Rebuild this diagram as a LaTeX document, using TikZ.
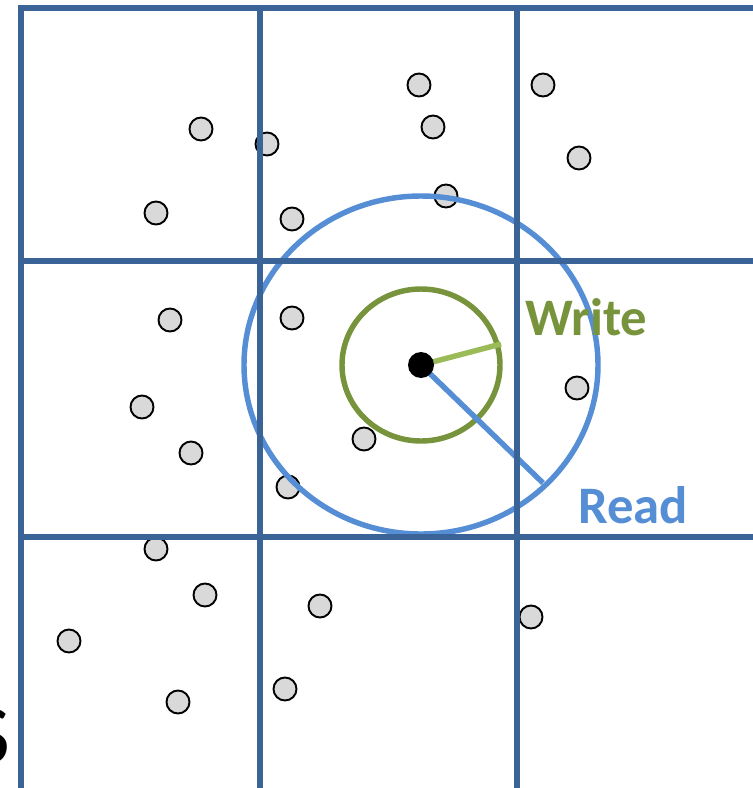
\documentclass[tikz,border=0pt]{standalone}
\usepackage{fontspec}
\setmainfont{Carlito}
\usetikzlibrary{positioning}
\definecolor{gridblue}{HTML}{3A6398}
\definecolor{readblue}{HTML}{558ED5}
\definecolor{writegreen}{HTML}{77933C}
\definecolor{radgreen}{HTML}{9BBB59}
\definecolor{dotgrey}{HTML}{D9D9D9}

\begin{document}
\begin{tikzpicture}[
    x=0.02cm, y=-0.02cm,
    cell/.style={draw=gridblue, line width=3.3pt},
    pt/.style={circle, draw, fill=dotgrey, line width=1.1pt, minimum size=0.46cm, inner sep=0pt},
    ring/.style={line width=3.1pt},
    lbl/.style={anchor=base west, font=\fontsize{30}{30}\selectfont\bfseries}
]
    \useasboundingbox (0,0) rectangle (753,788);
    \coordinate (c) at (421,365);

    % Particles
    \foreach \px/\py [count=\i] in {419/85, 543/85, 201/129, 433/127, 267/144, 579/158,
        446/196, 156/213, 292/219, 170/320, 292/318, 577/388, 142/407, 364/439,
        191/453, 288/487, 156/549, 205/595, 320/606, 69/641, 531/617, 178/702, 285/689}
        \node[pt] (p\i) at (\px,\py) {};

    % Read and write ranges
    \draw[ring, readblue] (c) ellipse [x radius=177, y radius=169];
    \draw[ring, writegreen] (c) ellipse [x radius=79, y radius=76];
    \coordinate (wend) at (501,344);
    \coordinate (rend) at (543,483);
    \draw[ring, radgreen] (c) -- (wend);
    \draw[ring, readblue] (c) -- (rend);

    % Grid
    \coordinate (g0) at (21,8);
    \draw[cell, line join=miter] (753,8) -- (g0) -- (21,788);
    \draw[cell] (260,8) -- (260,788);
    \draw[cell] (517,8) -- (517,788);
    \draw[cell] (21,261) -- (753,261);
    \draw[cell] (21,537) -- (753,537);

    % Centre
    \node[circle, fill=black, minimum size=0.52cm, inner sep=0pt] (ctr) at (c) {};
    \node[lbl, text=writegreen] (write) at (519,335) {Write};
    \node[lbl, text=readblue] (read) at (572,523) {Read};
    \node[anchor=base east, font=\fontsize{48}{48}\selectfont] (s) at (16,763) {S};
\end{tikzpicture}
\end{document}
